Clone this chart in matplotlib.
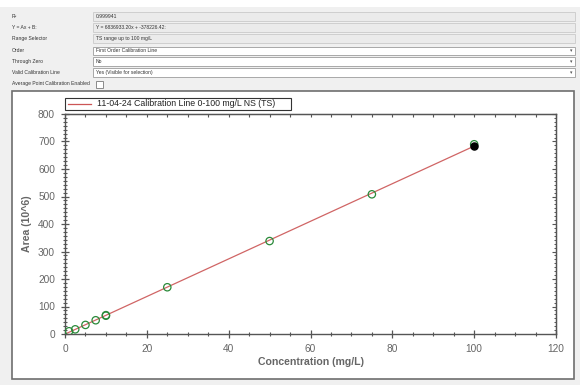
import matplotlib
matplotlib.use("Agg")
import matplotlib.pyplot as plt
from matplotlib.patches import Rectangle
from matplotlib.lines import Line2D
from matplotlib.ticker import MultipleLocator, AutoMinorLocator

plt.rcParams['font.family'] = ['Liberation Sans', 'DejaVu Sans']

# ---- data ----
form_labels = ["R²", "Y = Ax + B:", "Range Selector", "Order", "Through Zero",
               "Valid Calibration Line", "Average Point Calibration Enabled"]
form_values = ["0.999941", "Y = 6836933.20x + -378226.42:", "TS range up to 100 mg/L",
               "First Order Calibration Line", "No", "Yes (Visible for selection)"]
legend_label = "11-04-24 Calibration Line 0-100 mg/L NS (TS)"

conc = [1, 2.5, 5, 7.5, 10, 10, 25, 50, 75, 100]
area = [10, 17, 33, 50, 66.5, 68.5, 170, 338, 508, 690]
selected_conc = [100]
selected_area = [683]
fit_x = [0, 100]
fit_y = [-0.4, 683.3]

x_ticks = [0, 20, 40, 60, 80, 100, 120]
y_ticks = [0, 100, 200, 300, 400, 500, 600, 700, 800]

W, H = 580, 385
fig = plt.figure(figsize=(W / 100, H / 100), dpi=100, facecolor='#f0f0f0')


def fx(px):
    return px / W


def fy(py):
    return 1 - py / H


def rect(x0, y0, x1, y1, fc, ec, lw=0.8, z=1):
    fig.patches.append(Rectangle((fx(x0), fy(y1)), fx(x1) - fx(x0), fy(y0) - fy(y1),
                                 transform=fig.transFigure, facecolor=fc,
                                 edgecolor=ec, linewidth=lw, zorder=z))


# top white strip
rect(0, 0, 580, 7, 'white', 'none', 0)

# ---- form rows ----
row_y = [16.5, 27.5, 38.5, 51, 61.5, 72.5, 84]
for i, lab in enumerate(form_labels):
    fig.text(fx(12), fy(row_y[i]), lab, fontsize=3.6, color='#333333',
             va='center', ha='left')
for i, val in enumerate(form_values):
    yc = row_y[i]
    if i < 3:
        rect(93, yc - 4.3, 575, yc + 4.3, '#ebebeb', '#cfcfcf', 0.7)
    else:
        rect(93, yc - 4.3, 575, yc + 4.3, 'white', '#a8a8a8', 0.7)
        fig.text(fx(571), fy(yc), "▾", fontsize=3.5, color='#555555',
                 va='center', ha='center', family=['DejaVu Sans'])
    fig.text(fx(96), fy(yc), val, fontsize=3.6, color='#333333', va='center', ha='left')
# checkbox
rect(96, row_y[6] - 3.5, 103, row_y[6] + 3.5, 'white', '#8a8a8a', 0.7)

# ---- chart panel ----
rect(12, 91, 574, 379, 'white', '#6e6e6e', 1.2)

# legend
rect(65, 98, 291, 110, 'white', '#333333', 0.8, z=3)
fig.lines.append(Line2D([fx(68), fx(91)], [fy(104), fy(104)], transform=fig.transFigure,
                        color='#cc5555', linewidth=0.9, zorder=4))
fig.text(fx(97), fy(104), legend_label, fontsize=6.3, color='#222222',
         va='center', ha='left', zorder=4)

# axes
ax = fig.add_axes([fx(65), fy(334), fx(556) - fx(65), fy(114) - fy(334)])
ax.set_zorder(5)
ax.set_facecolor('none')
ax.plot(fit_x, fit_y, color='#d06565', linewidth=0.9, zorder=2)
ax.scatter(conc, area, s=28, facecolors='none', edgecolors='#2a8a3a',
           linewidths=0.9, zorder=3)
ax.scatter(selected_conc, selected_area, s=26, color='black', zorder=4)

ax.set_xlim(0, 120)
ax.set_ylim(0, 800)
ax.set_xticks(x_ticks)
ax.set_yticks(y_ticks)
ax.xaxis.set_minor_locator(AutoMinorLocator(4))
ax.yaxis.set_minor_locator(AutoMinorLocator(7))

gray = '#555555'
for s in ax.spines.values():
    s.set_color(gray)
    s.set_linewidth(1.0)

ax.tick_params(which='major', direction='inout', length=5.8, width=0.9, color=gray,
               labelsize=7.3, labelcolor='#666666', pad=4.3)
ax.tick_params(which='minor', direction='inout', length=2.9, width=0.8, color=gray)
ax.tick_params(top=False, right=False, which='both')

secx = ax.secondary_xaxis('top')
secx.xaxis.set_major_locator(MultipleLocator(5))
secx.tick_params(direction='in', length=2.2, width=0.8, color=gray, labeltop=False)
secx.spines['top'].set_color(gray)

secy = ax.secondary_yaxis('right')
secy.yaxis.set_major_locator(MultipleLocator(100))
secy.yaxis.set_minor_locator(AutoMinorLocator(7))
secy.tick_params(which='major', direction='in', length=2.6, width=0.8, color=gray,
                 labelright=False)
secy.tick_params(which='minor', direction='in', length=1.5, width=0.7, color=gray)
secy.spines['right'].set_color(gray)

fig.text(fx(310.5), fy(362), "Concentration (mg/L)", fontsize=7.6, fontweight='bold',
         color='#666666', ha='center', va='center')
fig.text(fx(27), fy(224), "Area (10^6)", fontsize=7.6, fontweight='bold',
         color='#666666', ha='center', va='center', rotation=90)

fig.savefig("out.png", dpi=100, facecolor=fig.get_facecolor())
